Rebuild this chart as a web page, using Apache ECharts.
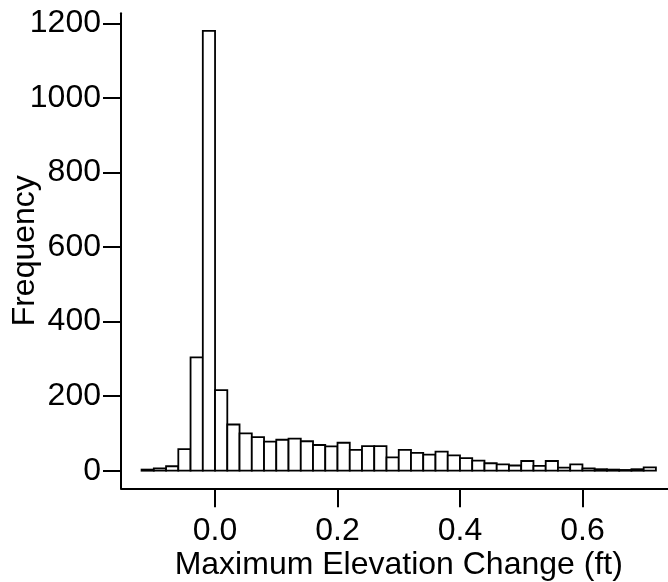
<!DOCTYPE html>
<html>
<head>
<meta charset="utf-8">
<script src="https://cdn.jsdelivr.net/npm/echarts@6/dist/echarts.min.js"></script>
<style>
html,body{margin:0;padding:0;background:#fff;}
#chart{width:668px;height:582px;}
</style>
</head>
<body>
<div id="chart"></div>
<script>
// Histogram bin edges (ft)
var binStarts = [-0.12,-0.10,-0.08,-0.06,-0.04,-0.02,0.00,0.02,0.04,0.06,0.08,0.10,0.12,0.14,0.16,0.18,0.20,0.22,0.24,0.26,0.28,
                 0.30,0.32,0.34,0.36,0.38,0.40,0.42,0.44,0.46,0.48,0.50,0.52,0.54,0.56,0.58,0.60,0.62,0.64,0.66,0.68,0.70];
var binEnds   = [-0.10,-0.08,-0.06,-0.04,-0.02,0.00,0.02,0.04,0.06,0.08,0.10,0.12,0.14,0.16,0.18,0.20,0.22,0.24,0.26,0.28,0.30,
                 0.32,0.34,0.36,0.38,0.40,0.42,0.44,0.46,0.48,0.50,0.52,0.54,0.56,0.58,0.60,0.62,0.64,0.66,0.68,0.70,0.72];
// Frequencies
var counts    = [3,6,12,58,304,1180,216,124,100,90,78,83,86,79,69,65,75,56,66,66,36,
                 56,48,43,51,41,34,27,20,17,14,26,13,26,8,17,6,4,3,2,4,9];
var xTicks = [0.0, 0.2, 0.4, 0.6];
var yTicks = [0, 200, 400, 600, 800, 1000, 1200];

var data = binStarts.map(function (s, i) { return [s, binEnds[i], counts[i]]; });

var FONT = "'Liberation Sans', Arial, sans-serif";
var chart = echarts.init(document.getElementById('chart'), null, {renderer: 'canvas'});
chart.setOption({
  backgroundColor: '#ffffff',
  animation: false,
  grid: {left: 121, right: -8.5, top: 13.2, bottom: 93.7, containLabel: false, outerBoundsMode: 'none'},
  xAxis: {
    type: 'value',
    min: -0.1536, max: 0.7536,
    name: 'Maximum Elevation Change (ft)',
    nameLocation: 'middle',
    nameGap: 61,
    nameMoveOverlap: false,
    nameTextStyle: {fontFamily: FONT, fontSize: 32, color: '#000'},
    axisLine: {show: true, onZero: false, lineStyle: {color: '#000', width: 2}},
    axisTick: {show: true, length: 19, customValues: xTicks, lineStyle: {color: '#000', width: 2}},
    axisLabel: {show: true, customValues: xTicks, margin: 27, fontFamily: FONT, fontSize: 32, color: '#000',
      formatter: function (v) { return v.toFixed(1); }},
    splitLine: {show: false}
  },
  yAxis: {
    type: 'value',
    min: -47.2, max: 1227.2,
    name: 'Frequency',
    nameLocation: 'middle',
    nameGap: 80,
    nameMoveOverlap: false,
    nameTextStyle: {fontFamily: FONT, fontSize: 32, color: '#000'},
    axisLine: {show: true, onZero: false, lineStyle: {color: '#000', width: 2}},
    axisTick: {show: true, length: 18, customValues: yTicks, lineStyle: {color: '#000', width: 2}},
    axisLabel: {show: true, customValues: yTicks, margin: 20, fontFamily: FONT, fontSize: 32, color: '#000',
      formatter: function (v) { return String(Math.round(v)); }},
    splitLine: {show: false}
  },
  series: [{
    type: 'custom',
    data: data,
    encode: {x: [0, 1], y: 2},
    renderItem: function (params, api) {
      var p0 = api.coord([api.value(0), api.value(2)]);
      var p1 = api.coord([api.value(1), 0]);
      return {
        type: 'rect',
        shape: {x: p0[0], y: p0[1], width: p1[0] - p0[0], height: p1[1] - p0[1]},
        style: {fill: '#ffffff', stroke: '#000000', lineWidth: 1.8}
      };
    }
  }]
});
</script>
</body>
</html>
